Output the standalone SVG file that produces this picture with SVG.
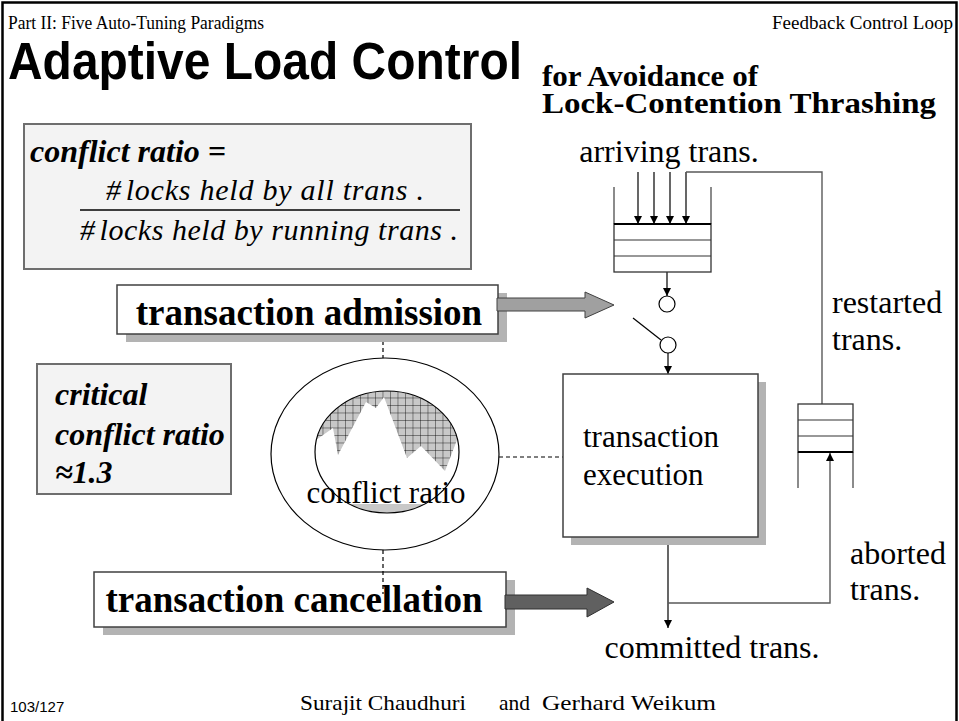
<svg xmlns="http://www.w3.org/2000/svg" width="959" height="721" viewBox="0 0 959 721">
  <style>
    .serif { font-family: "Liberation Serif", "Times New Roman", serif; fill: #000; }
    .sans { font-family: "Liberation Sans", Arial, sans-serif; fill: #000; }
    .bi { font-weight: bold; font-style: italic; }
    .it { font-style: italic; }
    .b { font-weight: bold; }
    .line { stroke: #000; stroke-width: 1.2; fill: none; }
    .gline { stroke: #5a5a5a; stroke-width: 1.4; fill: none; }
    .dash { stroke: #000; stroke-width: 1.2; stroke-dasharray: 4 3; fill: none; }
    .shadow { fill: #b3b3b3; }
    .box { fill: #fff; stroke: #404040; stroke-width: 1.5; }
    .panel { fill: #f3f3f3; stroke: #6e6e6e; stroke-width: 2; }
  </style>
  <defs>
    <marker id="arr" viewBox="0 0 10 10" refX="10" refY="5" markerWidth="8" markerHeight="8" markerUnits="userSpaceOnUse" orient="auto">
      <path d="M0 0L10 5L0 10z" fill="#000"/>
    </marker>
    <pattern id="grid" width="7.5" height="7.5" patternUnits="userSpaceOnUse">
      <rect width="7.5" height="7.5" fill="#c8c8c8"/>
      <path d="M0 0H7.5M0 0V7.5" stroke="#000" stroke-width="0.8"/>
    </pattern>
    <clipPath id="inner">
      <ellipse cx="387" cy="452" rx="72" ry="61"/>
    </clipPath>
  </defs>

  <!-- slide frame -->
  <rect x="2.5" y="2.5" width="954" height="730" fill="#fff" stroke="#000" stroke-width="2.5"/>

  <!-- header -->
  <text class="serif" x="8" y="29" font-size="18" textLength="256" lengthAdjust="spacingAndGlyphs">Part II: Five Auto-Tuning Paradigms</text>
  <text class="serif" x="953" y="29" font-size="18" text-anchor="end" textLength="181" lengthAdjust="spacingAndGlyphs">Feedback Control Loop</text>
  <text class="sans b" x="8" y="79" font-size="51" textLength="514" lengthAdjust="spacingAndGlyphs">Adaptive Load Control</text>
  <text class="serif b" font-size="29"><tspan x="542" y="86" textLength="216" lengthAdjust="spacingAndGlyphs">for Avoidance of</tspan><tspan x="542" y="113" textLength="394" lengthAdjust="spacingAndGlyphs">Lock-Contention Thrashing</tspan></text>

  <!-- conflict ratio definition -->
  <g id="definition">
    <rect class="panel" x="24" y="124" width="447" height="145"/>
    <text class="serif bi" x="30" y="162" font-size="32">conflict ratio =</text>
    <text class="serif it" x="106" y="200" font-size="30" textLength="318" lengthAdjust="spacing">#<tspan dx="4">locks</tspan> held by all trans .</text>
    <line x1="80" y1="210" x2="460" y2="210" stroke="#000" stroke-width="1.5"/>
    <text class="serif it" x="80" y="240" font-size="30" textLength="378" lengthAdjust="spacing">#<tspan dx="4">locks</tspan> held by running  trans .</text>
  </g>

  <!-- critical ratio note -->
  <g id="critical">
    <rect class="panel" x="37" y="364" width="194" height="130"/>
    <text class="serif bi" x="55" y="405" font-size="32">critical</text>
    <text class="serif bi" x="55" y="445" font-size="32">conflict ratio</text>
    <text class="serif bi" x="55" y="483" font-size="32">≈1.3</text>
  </g>

  <!-- connectors -->
  <g id="connectors">
    <line class="dash" x1="383" y1="334" x2="383" y2="358"/>
    <line class="dash" x1="499" y1="457" x2="563" y2="457"/>
    <!-- arrivals into the admission queue -->
    <line class="line" x1="638" y1="172" x2="638" y2="224" marker-end="url(#arr)"/>
    <line class="line" x1="654" y1="172" x2="654" y2="224" marker-end="url(#arr)"/>
    <line class="line" x1="670" y1="172" x2="670" y2="224" marker-end="url(#arr)"/>
    <line class="line" x1="686" y1="172" x2="686" y2="224" marker-end="url(#arr)"/>
    <!-- restart loop -->
    <polyline class="gline" points="686,172 822,172 822,404"/>
    <!-- queue to switch -->
    <line class="line" x1="667" y1="272" x2="667" y2="296" marker-end="url(#arr)"/>
    <line class="line" x1="633" y1="318" x2="661" y2="340"/>
    <line class="line" x1="668" y1="353" x2="668" y2="374" marker-end="url(#arr)"/>
    <!-- execution outputs -->
    <line class="line" x1="668" y1="537" x2="668" y2="628" marker-end="url(#arr)"/>
    <polyline class="gline" points="668,603 830,603 830,453" marker-end="url(#arr)"/>
  </g>

  <!-- admission queue -->
  <g id="admission-queue">
    <line class="gline" x1="614" y1="187" x2="614" y2="224"/>
    <line class="gline" x1="711" y1="187" x2="711" y2="224"/>
    <rect x="614" y="224" width="97" height="48" fill="#fff" stroke="#333" stroke-width="1.3"/>
    <line x1="614" y1="224" x2="711" y2="224" stroke="#000" stroke-width="2"/>
    <line x1="614" y1="240" x2="711" y2="240" stroke="#333" stroke-width="1.2"/>
    <line x1="614" y1="256" x2="711" y2="256" stroke="#333" stroke-width="1.2"/>
  </g>

  <!-- admission switch -->
  <g id="switch">
    <circle cx="667" cy="304" r="8" fill="#fff" stroke="#000" stroke-width="1.2"/>
    <circle cx="668" cy="345" r="8" fill="#fff" stroke="#000" stroke-width="1.2"/>
  </g>

  <text class="serif" x="669" y="162" font-size="32" text-anchor="middle">arriving trans.</text>

  <!-- transaction admission -->
  <g id="admission">
    <rect class="shadow" x="126" y="293" width="381" height="49"/>
    <rect class="box" x="117" y="285" width="381" height="49"/>
    <text class="serif b" x="309" y="325" font-size="37" text-anchor="middle">transaction admission</text>
    <polygon points="497,298 585,298 585,292 614,305 585,318 585,311 497,311" fill="#a0a0a0" stroke="#404040" stroke-width="1"/>
  </g>

  <!-- conflict ratio monitor -->
  <g id="monitor">
    <ellipse cx="385" cy="454" rx="114" ry="96" fill="#fff" stroke="#000" stroke-width="1.2"/>
    <g clip-path="url(#inner)">
      <rect x="300" y="380" width="180" height="124" fill="url(#grid)"/>
      <rect x="300" y="504" width="180" height="20" fill="#c8c8c8"/>
      <polygon points="300,440 316,440 333,428 338,455 366,402 376,408 384,397 407,458 421,446 445,471 457,440 475,440 475,504 300,504" fill="#fff"/>
    </g>
    <ellipse cx="387" cy="452" rx="72" ry="61" fill="none" stroke="#000" stroke-width="1.2"/>
    <text class="serif" x="386" y="503" font-size="31" text-anchor="middle">conflict ratio</text>
  </g>

  <!-- transaction execution -->
  <g id="execution">
    <rect class="shadow" x="571" y="382" width="195" height="163"/>
    <rect class="box" x="563" y="374" width="195" height="163"/>
    <text class="serif" x="583" y="447" font-size="31">transaction</text>
    <text class="serif" x="583" y="485" font-size="31">execution</text>
  </g>

  <!-- restart queue -->
  <g id="restart-queue">
    <line class="gline" x1="798" y1="452" x2="798" y2="488"/>
    <line class="gline" x1="853" y1="452" x2="853" y2="488"/>
    <rect x="798" y="404" width="55" height="48" fill="#fff" stroke="#333" stroke-width="1.3"/>
    <line x1="798" y1="420" x2="853" y2="420" stroke="#333" stroke-width="1.2"/>
    <line x1="798" y1="436" x2="853" y2="436" stroke="#333" stroke-width="1.2"/>
    <line x1="798" y1="452" x2="853" y2="452" stroke="#000" stroke-width="2"/>
  </g>

  <text class="serif" x="832" y="313" font-size="32">restarted</text>
  <text class="serif" x="832" y="350" font-size="32">trans.</text>
  <text class="serif" x="850" y="564" font-size="32">aborted</text>
  <text class="serif" x="850" y="600" font-size="32">trans.</text>
  <text class="serif" x="712" y="658" font-size="32" text-anchor="middle">committed trans.</text>

  <!-- transaction cancellation -->
  <g id="cancellation">
    <rect class="shadow" x="103" y="580" width="412" height="55"/>
    <rect class="box" x="94" y="572" width="412" height="55"/>
    <text class="serif b" x="294" y="612" font-size="37" text-anchor="middle">transaction cancellation</text>
    <polygon points="505,595 587,595 587,588 614,602 587,617 587,609 505,609" fill="#606060" stroke="#303030" stroke-width="1"/>
  </g>
  <line class="dash" x1="383" y1="550" x2="383" y2="594"/>

  <!-- footer -->
  <text class="sans" x="10" y="712" font-size="15">103/127</text>
  <text class="serif" x="300" y="710" font-size="21" textLength="166" lengthAdjust="spacingAndGlyphs">Surajit Chaudhuri</text>
  <text class="serif" x="499" y="710" font-size="21" textLength="31" lengthAdjust="spacingAndGlyphs">and</text>
  <text class="serif" x="542" y="710" font-size="21" textLength="174" lengthAdjust="spacingAndGlyphs">Gerhard Weikum</text>
</svg>
